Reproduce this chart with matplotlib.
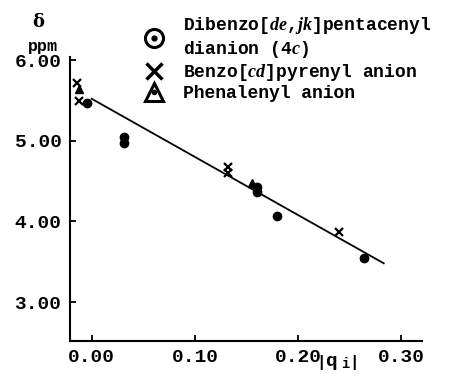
import matplotlib
matplotlib.use("Agg")
import matplotlib.pyplot as plt
from matplotlib.lines import Line2D

plt.rcParams['font.family'] = ['Liberation Mono', 'DejaVu Sans']
plt.rcParams['font.weight'] = 'bold'
plt.rcParams['mathtext.fontset'] = 'custom'
plt.rcParams['mathtext.rm'] = 'Liberation Mono:bold'
plt.rcParams['mathtext.it'] = 'Liberation Serif:italic'

# data
# Dibenzo[de,jk]pentacenyl dianion (4c)
dib_q = [-0.005, 0.031, 0.031, 0.160, 0.160, 0.180, 0.264]
dib_d = [5.47, 5.04, 4.97, 4.42, 4.36, 4.07, 3.55]
# Benzo[cd]pyrenyl anion
ben_q = [-0.014, -0.012, 0.132, 0.132, 0.240]
ben_d = [5.72, 5.49, 4.68, 4.60, 3.87]
# Phenalenyl anion
phe_q = [-0.012, 0.155]
phe_d = [5.64, 4.48]
# regression line
fit_q = [0.0, 0.283]
fit_d = [5.52, 3.48]

xticks = [0.0, 0.1, 0.2, 0.3]
yticks = [3.0, 4.0, 5.0, 6.0]

fig = plt.figure(figsize=(4.73, 3.78), dpi=100)
ax = fig.add_axes([0.148, 0.098, 0.744, 0.751])

ax.plot(fit_q, fit_d, color='black', lw=1.3)
ax.plot(dib_q, dib_d, 'o', color='black', ms=6)
ax.plot(ben_q, ben_d, 'x', color='black', ms=5.5, mew=1.6)
ax.plot(phe_q, phe_d, '^', color='black', ms=5.5)

ax.set_xlim(-0.021, 0.320)
ax.set_ylim(2.517, 6.037)
ax.set_xticks(xticks)
ax.set_xticklabels(['%.2f' % v for v in xticks])
ax.set_yticks(yticks)
ax.set_yticklabels(['%.2f' % v for v in yticks])
ax.tick_params(direction='in', length=4, width=1.3, labelsize=14, pad=6)
for s in ['top', 'right']:
    ax.spines[s].set_visible(False)
for s in ['left', 'bottom']:
    ax.spines[s].set_linewidth(1.5)

fig.text(0.080, 0.942, 'δ', fontsize=13, ha='center', va='center',
         family=['DejaVu Serif'])
fig.text(0.091, 0.877, 'ppm', fontsize=12, ha='center', va='center')
fig.text(0.712, 0.040, r'$\left|\mathrm{q}_{\ \mathrm{i}}\right|$', fontsize=14,
         ha='center', va='center')

# legend handles
h_circ = (Line2D([], [], ls='none', marker='o', ms=13, mfc='white',
                 mec='black', mew=2.2),
          Line2D([], [], ls='none', marker='o', ms=3.5, color='black'))
h_x = Line2D([], [], ls='none', marker='x', ms=11, mew=2.5, color='black')
h_tri = (Line2D([], [], ls='none', marker='^', ms=13, mfc='white',
                mec='black', mew=2.2),
         Line2D([], [], ls='none', marker='o', ms=3, color='black'))
labels = [r'Dibenzo[$de{,}jk$]pentacenyl' + '\n' + r'dianion ($4c$)',
          r'Benzo[$cd$]pyrenyl anion',
          'Phenalenyl anion']
fig.legend([h_circ, h_x, h_tri], labels, loc='upper left',
           bbox_to_anchor=(0.277, 0.993), frameon=False, fontsize=13,
           handlelength=1.2, handletextpad=1.0, labelspacing=0.1,
           borderaxespad=0.3)

fig.savefig('out.png', dpi=100)
